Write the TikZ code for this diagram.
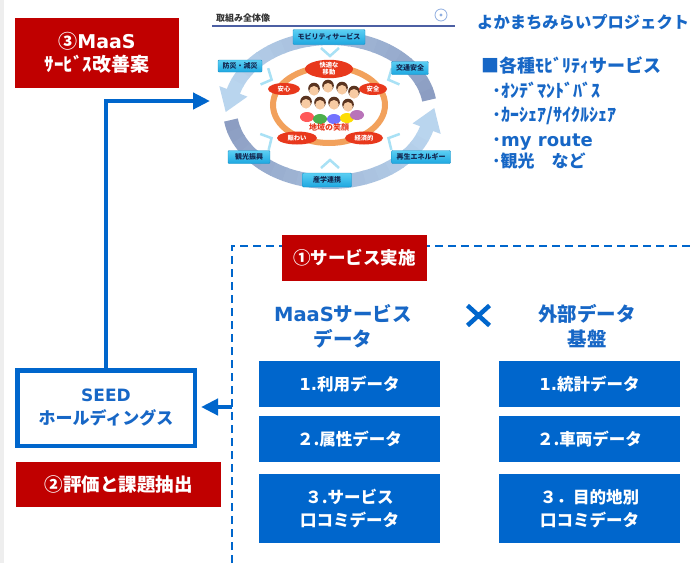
\documentclass[tikz,border=0pt]{standalone}
\usepackage{fontspec}
\setmainfont{Noto Sans CJK JP}
\newfontfamily\lat{DejaVu Sans}
\usetikzlibrary{arrows.meta,shapes.geometric}
\definecolor{mblue}{HTML}{0066CC}
\definecolor{tblue}{HTML}{1767C6}
\definecolor{mred}{HTML}{C00000}
\definecolor{stripgray}{HTML}{EEEEEE}
\definecolor{tailc}{HTML}{8C9DC2}
\definecolor{headc}{HTML}{B9D5EE}
\definecolor{cyantop}{HTML}{5BCFF3}
\definecolor{cyanbot}{HTML}{1EA7E0}
\definecolor{cyanedge}{HTML}{1790C8}
\definecolor{navy}{HTML}{14264F}
\definecolor{ringc}{HTML}{F2A15C}
\definecolor{bubble}{HTML}{E8381C}
\definecolor{skin}{HTML}{F7CBA3}
\definecolor{hair}{HTML}{5A3420}
\definecolor{chevc}{HTML}{A9E1F5}
\definecolor{panelink}{HTML}{333333}
\definecolor{panelrule}{HTML}{4C5FA3}
\newcommand\fsz[2]{\fontsize{#1}{#2}\selectfont}

\begin{document}
\begin{tikzpicture}[x=1pt,y=-1pt,
  redlabel/.style={fill=mred,text=white,font=\bfseries,align=center,inner sep=0pt},
  databox/.style={fill=mblue,text=white,font=\bfseries\fsz{16.5}{23},align=center,inner sep=0pt,minimum width=181pt},
  heading/.style={text=tblue,font=\bfseries\fsz{19.5}{25},align=center,inner sep=0pt},
  listtext/.style={text=tblue,font=\bfseries,anchor=base west,inner sep=0pt},
  flowarrow/.style={draw=mblue,line width=4.2pt,-{Triangle[length=17pt,width=16pt]}},
  frameline/.style={draw=mblue,line width=2.4pt,dash pattern=on 8pt off 5pt},
  cyanlbl/.style={top color=cyantop,bottom color=cyanbot,draw=cyanedge,line width=0.4pt,rounded corners=1pt,text=navy,font=\bfseries\fsz{7}{8},inner sep=0pt},
  bubblelbl/.style={ellipse,fill=bubble,text=white,font=\bfseries\fsz{6.3}{7},align=center,inner sep=0pt},
  chevron/.style={draw=chevc,line width=2.5pt},
]
\useasboundingbox (0,0) rectangle (693,563);
\fill[white] (0,0) rectangle (693,563);
\fill[stripgray] (0,0) rectangle (4,563);

% ---------- overview panel ----------
% upper cycle arrow (right -> top -> left)
\foreach \i in {0,...,19} {
  \pgfmathsetmacro\ta{-8-\i*7.85}
  \pgfmathsetmacro\tb{\ta-8.6}
  \pgfmathsetmacro\pc{100*\i/19}
  \draw[line width=14pt,color=headc!\pc!tailc] plot[domain=\ta:\tb,samples=4] ({330+100*cos(\x)},{110+72*sin(\x)});
}
\fill[headc] (219.35,86.13) -- (225.73,111.98) -- (247.47,96.61) -- cycle;
% lower cycle arrow (left -> bottom -> right)
\foreach \i in {0,...,19} {
  \pgfmathsetmacro\ta{172-\i*7.85}
  \pgfmathsetmacro\tb{\ta-8.6}
  \pgfmathsetmacro\pc{100*\i/19}
  \draw[line width=14pt,color=headc!\pc!tailc] plot[domain=\ta:\tb,samples=4] ({330+100*cos(\x)},{110+72*sin(\x)});
}
\fill[headc] (412.53,123.40) -- (434.27,108.02) -- (440.65,133.87) -- cycle;

% inward chevrons
\foreach \px/\py/\ang in {330/52/-90, 268/78/-25, 392/78/-155, 268/140/28, 392/140/152, 330/164/90}
  \draw[chevron,shift={(\px,\py)},rotate=\ang] (-4pt,-9pt) -- (4pt,0pt) -- (-4pt,9pt);

% title and rule
\node[anchor=base west,inner sep=0pt,font=\bfseries\fsz{9}{10},text=panelink] (pantitle) at (216,21) {取組み全体像};
\draw[panelrule,line width=1.5pt] (212,26) -- (455,26);
\draw[cyan!50!blue!45,line width=0.8pt] (441,15) circle [radius=6];
\fill[cyan!50!blue!45] (441,15) circle [radius=1.6];

% orange ring
\draw[ringc,line width=6pt] (329,105) ellipse [x radius=56,y radius=38];

% crowd of smiling people
\foreach \sx/\sy/\sc in {307/117/red!65, 320/119/green!55!black!70, 334/119/blue!55, 347/118/yellow!80!orange, 357/115/violet!55}
  \fill[\sc] (\sx,\sy) ellipse [x radius=7,y radius=5];
\foreach \fx/\fy in {314/90, 328/87, 342/89, 354/93, 306/103, 320/104, 334/104, 348/106} {
  \fill[hair] (\fx,\fy-1.5) circle [radius=5.8];
  \fill[skin] (\fx,\fy+0.8) circle [radius=4.8];
}
\node[inner sep=0pt,text=bubble,font=\bfseries\fsz{8}{9}] (smile) at (329,127) {地域の笑顔};

% value bubbles
\node[bubblelbl,minimum width=48pt,minimum height=18pt] (kaiteki) at (329,69) {快適な\\移動};
\node[bubblelbl,minimum width=32pt,minimum height=12pt] (anshin) at (284,89) {安心};
\node[bubblelbl,minimum width=28pt,minimum height=12pt] (anzen) at (373,89) {安全};
\node[bubblelbl,minimum width=40pt,minimum height=13pt] (nigiwai) at (297,138) {賑わい};
\node[bubblelbl,minimum width=38pt,minimum height=13pt] (keizai) at (364,138) {経済的};

% initiative labels
\node[cyanlbl,minimum width=72pt,minimum height=15pt] (mobility) at (329,37) {モビリティサービス};
\node[cyanlbl,minimum width=44pt,minimum height=12pt] (bousai) at (240,66) {防災・減災};
\node[cyanlbl,minimum width=37pt,minimum height=13pt] (koutsu) at (410,68) {交通安全};
\node[cyanlbl,minimum width=42pt,minimum height=13pt] (kankou) at (249,157) {観光振興};
\node[cyanlbl,minimum width=59pt,minimum height=13pt] (saisei) at (421,157) {再生エネルギー};
\node[cyanlbl,minimum width=49pt,minimum height=14pt] (sangaku) at (327,180) {産学連携};

% ---------- project summary ----------
\node[listtext,font=\bfseries\fsz{16.3}{18}] (proj) at (477,28) {よかまちみらいプロジェクト};
\node[listtext,font=\bfseries\fsz{18}{20}] (svc) at (481,72.5) {■各種ﾓﾋﾞﾘﾃｨサービス};
\node[listtext,font=\bfseries\fsz{18}{20}] (item1) at (492,97) {･ｵﾝﾃﾞﾏﾝﾄﾞﾊﾞｽ};
\node[listtext,font=\bfseries\fsz{18}{20}] (item2) at (492,121) {･ｶｰｼｪｱ/ｻｲｸﾙｼｪｱ};
\node[listtext,font=\bfseries\fsz{18}{20}] (item3) at (492,146.5) {･{\lat\bfseries my route}};
\node[listtext,font=\bfseries\fsz{17}{20}] (item4) at (492,167) {･観光　など};

% ---------- PDCA labels ----------
\node[redlabel,font=\bfseries\fsz{19}{22.5},minimum width=164pt,minimum height=70pt] (kaizen) at (97,53) {③{\lat\bfseries MaaS}\\ｻｰﾋﾞｽ改善案};
\node[redlabel,font=\bfseries\fsz{18.5}{22},minimum width=205pt,minimum height=45pt] (hyouka) at (118.5,484.5) {②評価と課題抽出};

% operator box
\node[draw=mblue,line width=4.5pt,fill=white,text=tblue,font=\bfseries\fsz{17}{23},align=center,inner sep=0pt,minimum width=177.5pt,minimum height=75.5pt] (seed) at (106,408) {{\lat\bfseries SEED}\\ホールディングス};

% ---------- service data frame ----------
\draw[frameline] (232,563) -- (232,246) -- (693,246);
\node[redlabel,font=\bfseries\fsz{17.5}{21},minimum width=145pt,minimum height=46pt] (jisshi) at (354.5,258) {①サービス実施};

\node[heading] (maasdata) at (343,326) {{\lat\bfseries MaaS}サービス\\データ};
\node[heading] (extdata) at (587,326) {外部データ\\基盤};
\coordinate (cross) at (478.5,315.5);
\draw[mblue,line width=4.5pt] (467.5,305.5) -- (489.5,325.5) (467.5,325.5) -- (489.5,305.5);

\node[databox,minimum height=46pt] (use) at (349.5,384) {{\lat\bfseries 1.}利用データ};
\node[databox,minimum height=46pt] (attr) at (349.5,439) {２.属性データ};
\node[databox,minimum height=69pt] (review) at (349.5,508.5) {３.サービス\\口コミデータ};
\node[databox,minimum height=46pt] (stat) at (589.5,384) {{\lat\bfseries 1.}統計データ};
\node[databox,minimum height=46pt] (vehicle) at (589.5,439) {２.車両データ};
\node[databox,minimum height=69pt] (dest) at (589.5,508.5) {３．目的地別\\口コミデータ};

% ---------- flow ----------
\coordinate (frameL) at (232,407);
\coordinate (panelin) at (210,101);
\draw[flowarrow,shorten >=4pt] (frameL) -- (frameL -| seed.east);
\draw[flowarrow,line join=miter] (seed.north) |- (panelin);
\end{tikzpicture}
\end{document}
